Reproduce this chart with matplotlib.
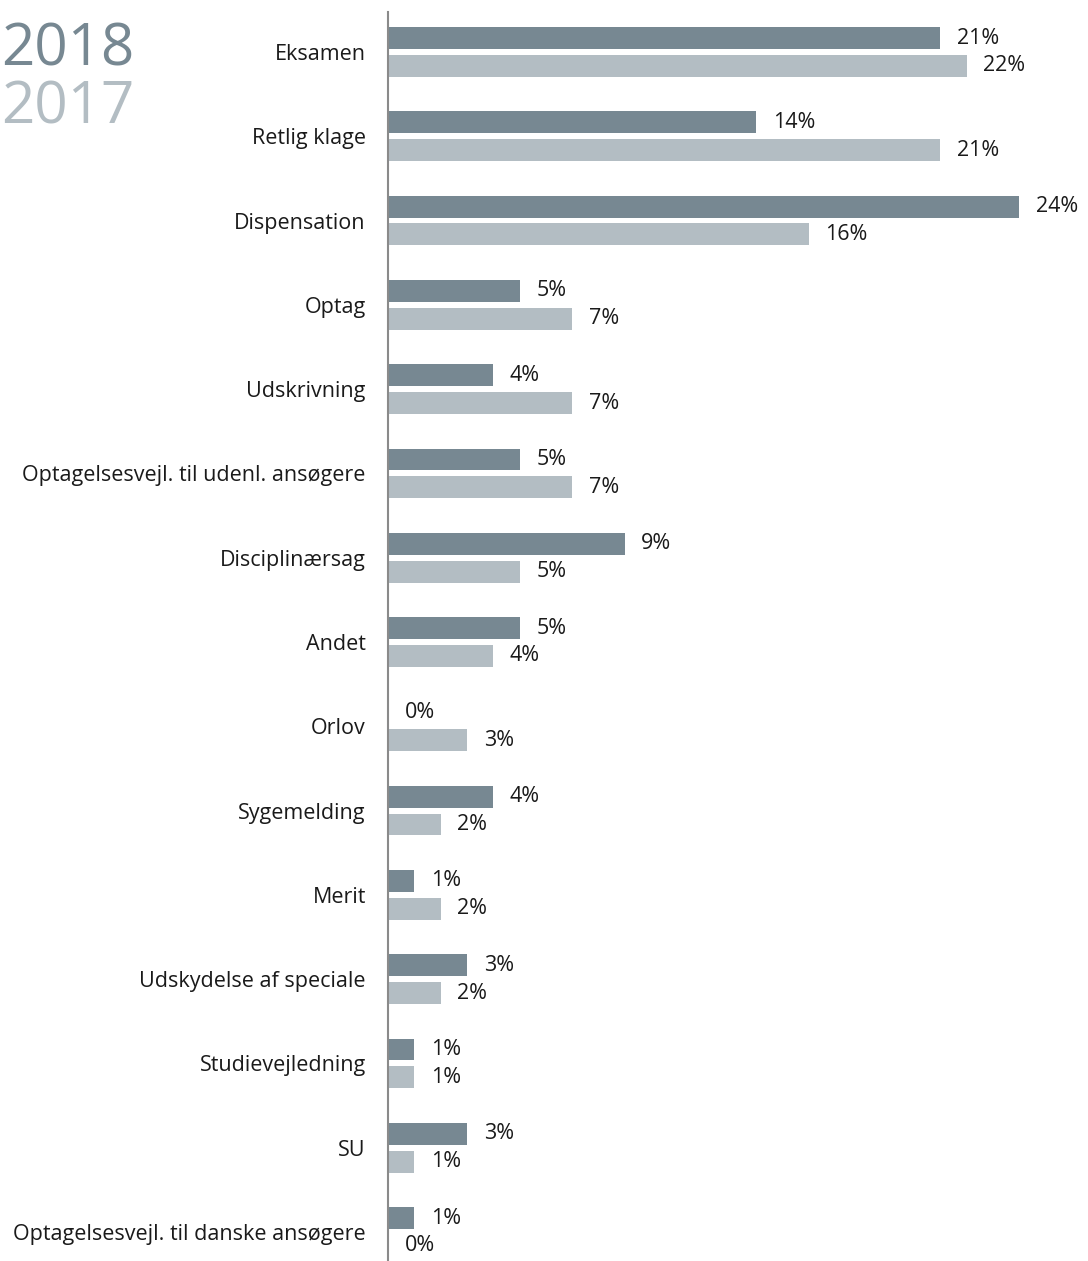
import numpy as np
import matplotlib.pyplot as plt

plt.rcParams['font.family'] = ['Open Sans', 'DejaVu Sans']

categories = [
    "Eksamen", "Retlig klage", "Dispensation", "Optag", "Udskrivning",
    "Optagelsesvejl. til udenl. ansøgere", "Disciplinærsag", "Andet", "Orlov",
    "Sygemelding", "Merit", "Udskydelse af speciale", "Studievejledning", "SU",
    "Optagelsesvejl. til danske ansøgere",
]
vals_2018 = [21, 14, 24, 5, 4, 5, 9, 5, 0, 4, 1, 3, 1, 3, 1]
vals_2017 = [22, 21, 16, 7, 7, 7, 5, 4, 3, 2, 2, 2, 1, 1, 0]

c2018 = "#778892"
c2017 = "#b3bdc3"

fig = plt.figure(figsize=(10.88, 12.61), dpi=100)
ax = fig.add_axes([388 / 1088, 0, 700 / 1088, 1 - 12 / 1261])

y = np.arange(len(categories))
h = 0.26
off = 0.165
b1 = ax.barh(y - off, vals_2018, height=h, color=c2018)
b2 = ax.barh(y + off, vals_2017, height=h, color=c2017)

for bars, vals in ((b1, vals_2018), (b2, vals_2017)):
    for bar, v in zip(bars, vals):
        ax.annotate(f"{v}%", (v, bar.get_y() + bar.get_height() / 2),
                    xytext=(12, 0), textcoords="offset points",
                    ha="left", va="center", fontsize=15.5, color="#1a1a1a")

ax.set_xlim(0, 700 / 26.3)
ax.set_ylim(len(categories) - 1 + 0.344, -0.474)
ax.set_yticks(y)
ax.set_yticklabels(categories, fontsize=15.5, color="#1a1a1a")
ax.tick_params(axis="y", length=0, pad=16)
ax.set_xticks([])
for s in ("top", "right", "bottom"):
    ax.spines[s].set_visible(False)
ax.spines["left"].set_color("#8a8a8a")
ax.spines["left"].set_linewidth(1.5)

fig.text(0.001, 1 - 65 / 1261, "2018", fontsize=42, color=c2018,
         ha="left", va="baseline")
fig.text(0.001, 1 - 124 / 1261, "2017", fontsize=42, color=c2017,
         ha="left", va="baseline")

fig.savefig("out.png", dpi=100)
